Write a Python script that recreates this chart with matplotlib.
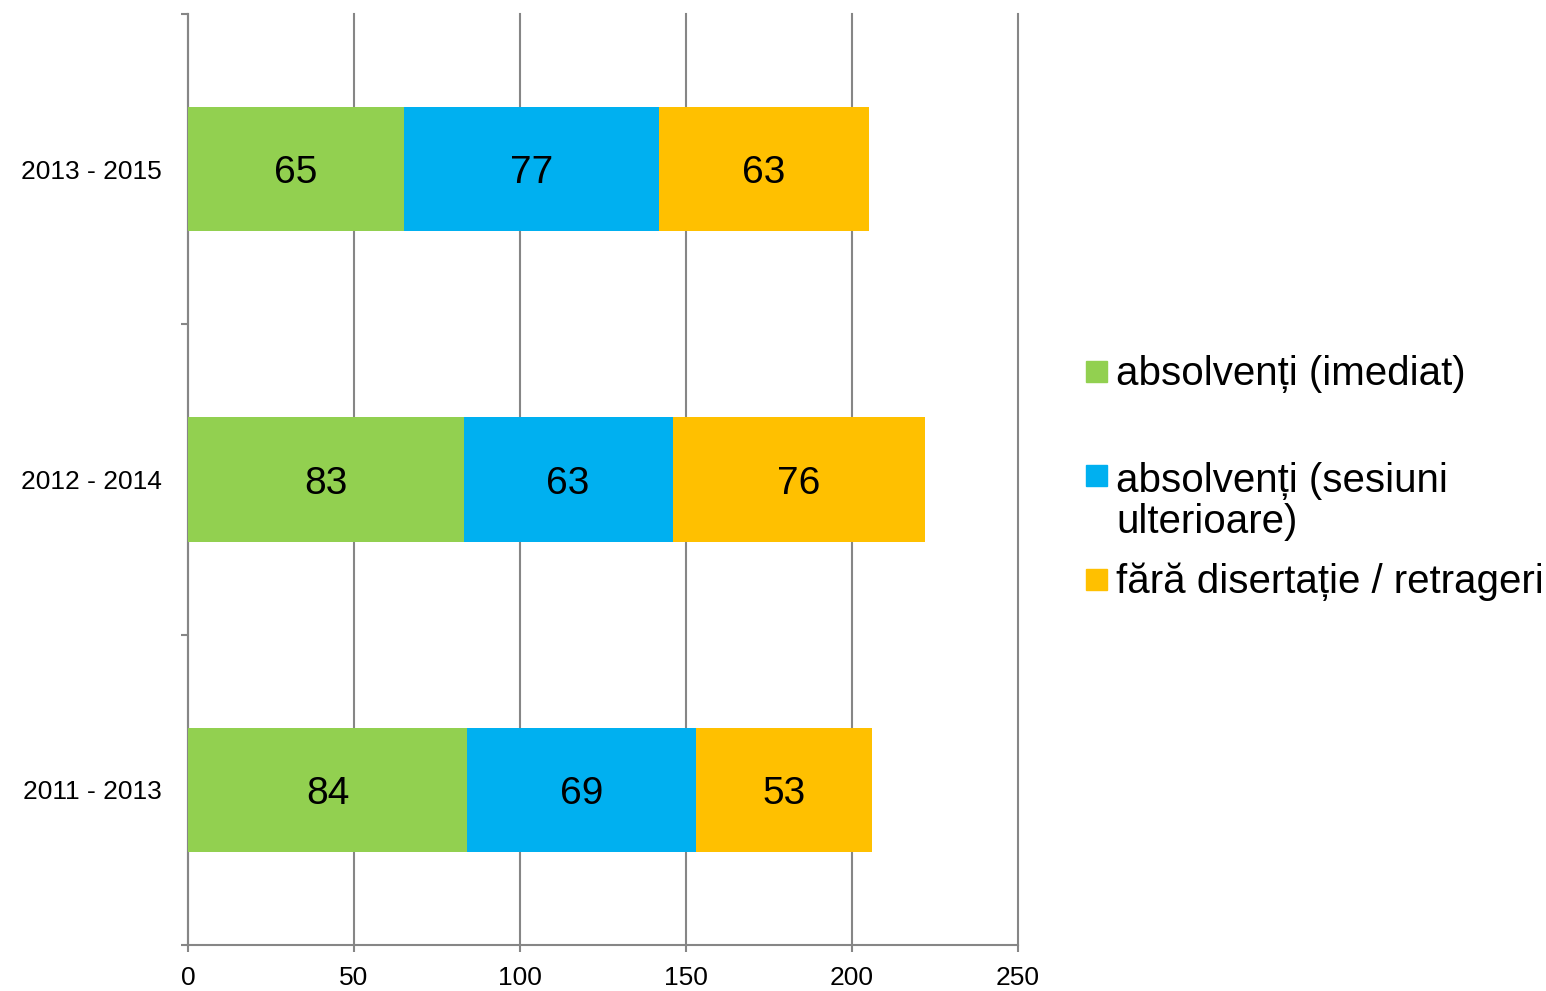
import numpy as np
import matplotlib.pyplot as plt
from matplotlib.patches import Rectangle

plt.rcParams['font.family'] = ['Liberation Sans', 'DejaVu Sans']

# data
periods = ["2011 - 2013", "2012 - 2014", "2013 - 2015"]
imediat = [84, 83, 65]
ulterioare = [69, 63, 77]
retrageri = [53, 76, 63]
series_names = ["absolvenți (imediat)", "absolvenți (sesiuni\nulterioare)", "fără disertație / retrageri"]
colors = ["#92D050", "#00B0F0", "#FFC000"]

grey = "#868686"

fig = plt.figure(figsize=(15.46, 9.91), dpi=100)
ax = fig.add_axes([188/1546, 46/991, 830/1546, 931/991])

y = np.arange(len(periods))
left = np.zeros(len(periods))
for vals, col in zip([imediat, ulterioare, retrageri], colors):
    bars = ax.barh(y, vals, left=left, height=0.4, color=col, zorder=3)
    txts = ax.bar_label(bars, labels=[str(v) for v in vals], label_type='center',
                        fontsize=28, color='black')
    for t in txts:
        t.set_va('center_baseline')
    left += np.array(vals)

ax.set_xlim(0, 250)
ax.set_ylim(-0.5, 2.5)
ax.set_xticks(np.arange(0, 251, 50))
ax.xaxis.grid(True, color=grey, linewidth=1.5, zorder=0)
for gl in ax.get_xgridlines():
    gl.set_clip_on(False)
ax.set_axisbelow(True)

ax.set_yticks(y)
ax.set_yticklabels(periods, fontsize=19)
ax.tick_params(axis='y', length=0, pad=19)
ax.set_yticks(np.arange(-0.5, 2.6, 1), minor=True)
ax.tick_params(axis='y', which='minor', length=5, width=1.5, color=grey)
ax.tick_params(axis='x', length=5, width=1.5, color=grey, labelsize=19, pad=10)

for s in ['top', 'right']:
    ax.spines[s].set_visible(False)
for s in ['left', 'bottom']:
    ax.spines[s].set_color(grey)
    ax.spines[s].set_linewidth(1.5)

# legend drawn by hand to keep the spacing of the original
marker_tops = [361, 465, 569]
line_step = 44
for name, col, top in zip(series_names, colors, marker_tops):
    fig.add_artist(Rectangle((1086/1546, 1 - (top + 21)/991), 21/1546, 21/991,
                             transform=fig.transFigure, color=col))
    last_baseline = top + 24 + line_step * name.count("\n")
    fig.text(1116/1546, 1 - last_baseline/991, name, fontsize=29, va='baseline',
             ha='left', linespacing=1.1)

fig.savefig("out.png", dpi=100)
